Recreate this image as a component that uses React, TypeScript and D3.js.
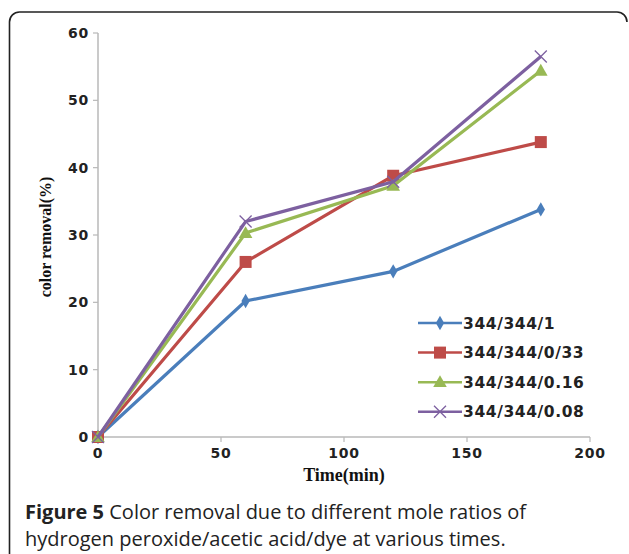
import * as d3 from "d3";

// values
const times = [0, 60, 120, 180];
const seriesNames = ["344/344/1", "344/344/0/33", "344/344/0.16", "344/344/0.08"];
const ratio1 = [0, 20.2, 24.6, 33.8];
const ratio033 = [0, 26.0, 38.8, 43.8];
const ratio016 = [0, 30.3, 37.3, 54.4];
const ratio008 = [0, 32.0, 37.9, 56.5];
const xTicks = [0, 50, 100, 150, 200];
const yTicks = [0, 10, 20, 30, 40, 50, 60];

const colors = ["#4a7ebb", "#be4b48", "#98b954", "#7d60a0"];
const symbols = ["diamond", "square", "triangle", "cross"];

const W = 629;
const H = 554;
const margin = { left: 98, top: 33, right: 39, bottom: 117 };

function Marker({ kind, x, y, color }: { kind: string; x: number; y: number; color: string }) {
  if (kind === "diamond") {
    return <path d={d3.symbol(d3.symbolDiamond, 60)()!} transform={`translate(${x},${y})`} fill={color} />;
  }
  if (kind === "square") {
    return <rect x={x - 6} y={y - 6} width={12} height={12} fill={color} />;
  }
  if (kind === "triangle") {
    return <path d={d3.symbol(d3.symbolTriangle, 80)()!} transform={`translate(${x},${y + 1})`} fill={color} />;
  }
  return (
    <path
      d={`M${x - 6},${y - 6}L${x + 6},${y + 6}M${x - 6},${y + 6}L${x + 6},${y - 6}`}
      stroke={color}
      strokeWidth={1.3}
      fill="none"
    />
  );
}

export default function App() {
  const x = d3.scaleLinear().domain([0, 200]).range([margin.left, W - margin.right]);
  const y = d3.scaleLinear().domain([0, 60]).range([H - margin.bottom, margin.top]);
  const data = [ratio1, ratio033, ratio016, ratio008];
  const line = d3
    .line<number>()
    .x((_, i) => x(times[i]))
    .y((d) => y(d));
  const tickFont = "'DejaVu Sans', Verdana, sans-serif";
  const serif = "'Liberation Serif', 'Times New Roman', serif";
  const captionFont = "'Open Sans', 'Noto Sans', sans-serif";
  const axisColor = "#b8b8b8";
  const y0 = y(0);

  return (
    <svg
      width={W}
      height={H}
      style={{ position: "absolute", left: 0, top: 0, background: "#fff" }}
    >
      <rect x={0} y={0} width={W} height={H} fill="#fff" />
      {/* frame */}
      <path
        d={`M9.5,${H + 5}L9.5,22A10,10 0 0 1 19.5,12L617,12A10,10 0 0 1 627,22`}
        fill="none"
        stroke="#222"
        strokeWidth={1.6}
      />
      {/* axes */}
      <line x1={x(0)} x2={x(200)} y1={y0} y2={y0} stroke={axisColor} strokeWidth={1.5} />
      <line x1={x(0)} x2={x(0)} y1={y0} y2={y(60)} stroke={axisColor} strokeWidth={1.5} />
      {yTicks.map((t) => (
        <g key={"y" + t}>
          <line x1={x(0) - 5} x2={x(0)} y1={y(t)} y2={y(t)} stroke={axisColor} strokeWidth={1.2} />
          <text
            x={x(0) - 9}
            y={y(t)}
            dy="0.36em"
            textAnchor="end"
            fontFamily={tickFont}
            fontWeight="bold"
            fontSize={14}
            letterSpacing={0.8}
            fill="#222"
          >
            {t}
          </text>
        </g>
      ))}
      {xTicks.map((t) => (
        <g key={"x" + t}>
          <line x1={x(t)} x2={x(t)} y1={y0} y2={y0 + 5} stroke={axisColor} strokeWidth={1.2} />
          <text
            x={x(t)}
            y={y0 + 21}
            textAnchor="middle"
            fontFamily={tickFont}
            fontWeight="bold"
            fontSize={14}
            letterSpacing={0.8}
            fill="#222"
          >
            {t}
          </text>
        </g>
      ))}
      {/* axis titles */}
      <text
        transform={`translate(51,${(y(0) + y(60)) / 2 + 2}) rotate(-90)`}
        textAnchor="middle"
        fontFamily={serif}
        fontWeight="bold"
        fontSize={16}
        fill="#111"
      >
        color removal(%)
      </text>
      <text
        x={x(100)}
        y={481}
        textAnchor="middle"
        fontFamily={serif}
        fontWeight="bold"
        fontSize={18}
        fill="#111"
      >
        Time(min)
      </text>
      {/* series */}
      {data.map((vals, si) => (
        <g key={"s" + si}>
          <path d={line(vals)!} fill="none" stroke={colors[si]} strokeWidth={3.2} />
          {vals.map((v, i) => (
            <Marker key={i} kind={symbols[si]} x={x(times[i])} y={y(v)} color={colors[si]} />
          ))}
        </g>
      ))}
      {/* legend */}
      {seriesNames.map((name, i) => {
        const ly = 323 + i * 29.6;
        return (
          <g key={"l" + i}>
            <line x1={418} x2={462} y1={ly} y2={ly} stroke={colors[i]} strokeWidth={2.5} />
            <Marker kind={symbols[i]} x={440} y={ly} color={colors[i]} />
            <text
              x={463}
              y={ly}
              dy="0.36em"
              fontFamily={tickFont}
              fontWeight="bold"
              fontSize={15.5}
              letterSpacing={0.6}
              fill="#222"
            >
              {name}
            </text>
          </g>
        );
      })}
      {/* caption */}
      <text x={25} y={519} fontFamily={captionFont} fontSize={20} fill="#222">
        <tspan fontWeight="bold">Figure 5</tspan> Color removal due to different mole ratios of
      </text>
      <text x={25} y={546} fontFamily={captionFont} fontSize={20} fill="#222">
        hydrogen peroxide/acetic acid/dye at various times.
      </text>
    </svg>
  );
}
